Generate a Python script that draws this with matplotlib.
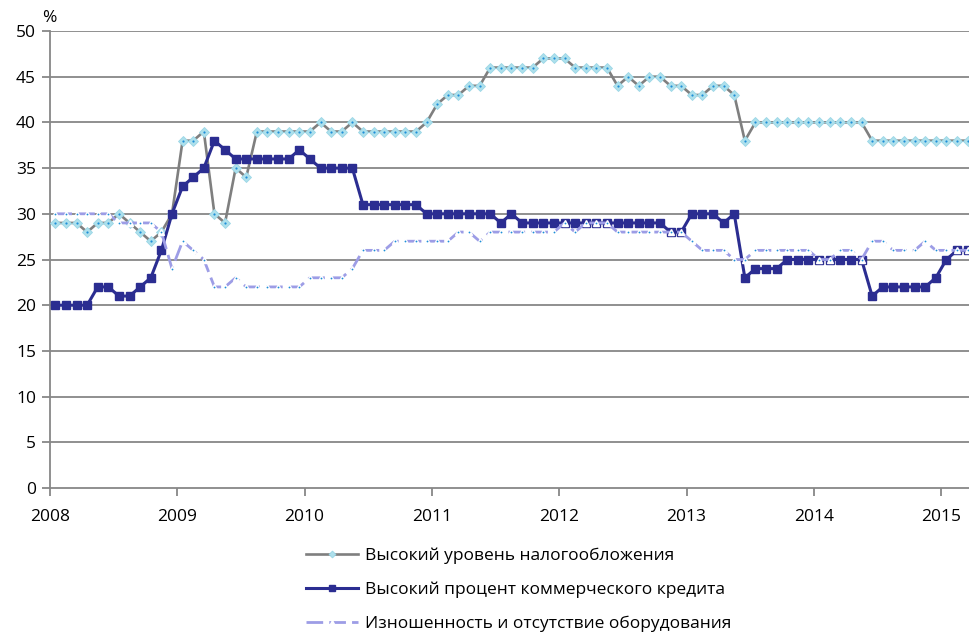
import numpy as np
import matplotlib
matplotlib.use('Agg')
from matplotlib import pyplot as plt

# monthly survey values, Jan 2008 .. Mar 2015
tax = [29, 29, 29, 28, 29, 29, 30, 29, 28, 27, 28, 30,
       38, 38, 39, 30, 29, 35, 34, 39, 39, 39, 39, 39,
       39, 40, 39, 39, 40, 39, 39, 39, 39, 39, 39, 40,
       42, 43, 43, 44, 44, 46, 46, 46, 46, 46, 47, 47,
       47, 46, 46, 46, 46, 44, 45, 44, 45, 45, 44, 44,
       43, 43, 44, 44, 43, 38, 40, 40, 40, 40, 40, 40,
       40, 40, 40, 40, 40, 38, 38, 38, 38, 38, 38, 38,
       38, 38, 38]
credit = [20, 20, 20, 20, 22, 22, 21, 21, 22, 23, 26, 30,
          33, 34, 35, 38, 37, 36, 36, 36, 36, 36, 36, 37,
          36, 35, 35, 35, 35, 31, 31, 31, 31, 31, 31, 30,
          30, 30, 30, 30, 30, 30, 29, 30, 29, 29, 29, 29,
          29, 29, 29, 29, 29, 29, 29, 29, 29, 29, 28, 28,
          30, 30, 30, 29, 30, 23, 24, 24, 24, 25, 25, 25,
          25, 25, 25, 25, 25, 21, 22, 22, 22, 22, 22, 23,
          25, 26, 26]
equipment = [30, 30, 30, 30, 30, 30, 29, 29, 29, 29, 28, 24,
             27, 26, 25, 22, 22, 23, 22, 22, 22, 22, 22, 22,
             23, 23, 23, 23, 24, 26, 26, 26, 27, 27, 27, 27,
             27, 27, 28, 28, 27, 28, 28, 28, 28, 28, 28, 28,
             29, 28, 29, 29, 29, 28, 28, 28, 28, 28, 28, 28,
             27, 26, 26, 26, 25, 25, 26, 26, 26, 26, 26, 26,
             25, 25, 26, 26, 25, 27, 27, 26, 26, 26, 27, 26,
             26, 26, 26]
labels = ['Высокий уровень налогообложения',
          'Высокий процент коммерческого кредита',
          'Изношенность и отсутствие оборудования']
years = list(range(2008, 2016))

plt.rcParams['font.family'] = ['Open Sans', 'DejaVu Sans']

# points sit in the middle of each month
x = 2008 + (np.arange(len(tax)) + 0.5) / 12

fig = plt.figure(figsize=(9.69, 6.36), dpi=100)
ax = fig.add_axes([50 / 969, 148 / 636, 919 / 969, 457 / 636])

grid_c = '#878787'
for v in range(5, 55, 5):
    ax.axhline(v, color=grid_c, lw=1.3, zorder=0)

# tax burden: grey line, pale cyan diamonds with a blue dot
l1, = ax.plot(x, tax, color='#7f7f7f', lw=1.9, marker='D', ms=5,
              mfc='#aee0ec', mec='#9ad6e6', mew=0.6, zorder=3, clip_on=False)
ax.plot(x, tax, ls='none', marker='o', ms=1.6, mfc='#1d8fd8', mec='none',
        zorder=3.1, clip_on=False)

# credit rate: dark blue with squares
l2, = ax.plot(x, credit, color='#2b2d91', lw=2.2, marker='s', ms=6.3,
              mfc='#2b2d91', mec='#2b2d91', zorder=4, clip_on=False)

# equipment: light violet dashed, white triangles
l3, = ax.plot(x, equipment, color='#9d9de6', lw=2.0, dashes=(6, 2.2),
              marker='^', ms=4.2, mfc='white', mec='white', zorder=5,
              clip_on=False)
ax.plot(x, equipment, ls='none', marker='o', ms=1.3, mfc='#1d8fd8',
        mec='none', zorder=5.1, clip_on=False)

ax.set_xlim(2008, 2008 + 919 / 127.3)
ax.set_ylim(0, 50)
ax.set_xticks(years)
ax.set_xticklabels([str(y) for y in years])
ax.set_yticks(range(0, 55, 5))

for s in ['top', 'right']:
    ax.spines[s].set_visible(False)
for s in ['left', 'bottom']:
    ax.spines[s].set_color(grid_c)
    ax.spines[s].set_linewidth(1.3)
ax.tick_params(axis='both', colors=grid_c, length=6, width=1.3,
               labelsize=12.5, labelcolor='black')
ax.tick_params(axis='x', pad=9)
ax.tick_params(axis='y', pad=4)

fig.text(42 / 969, 1 - 18 / 636, '%', fontsize=12.5, va='center')

leg = fig.legend([l1, l2, l3], labels, loc='upper left',
                 bbox_to_anchor=(290 / 969, 1 - 532 / 636), frameon=False,
                 fontsize=12.5, handlelength=3.0, handletextpad=0.4,
                 labelspacing=1.0, markerscale=0.7)

fig.savefig('out.png', dpi=100)
